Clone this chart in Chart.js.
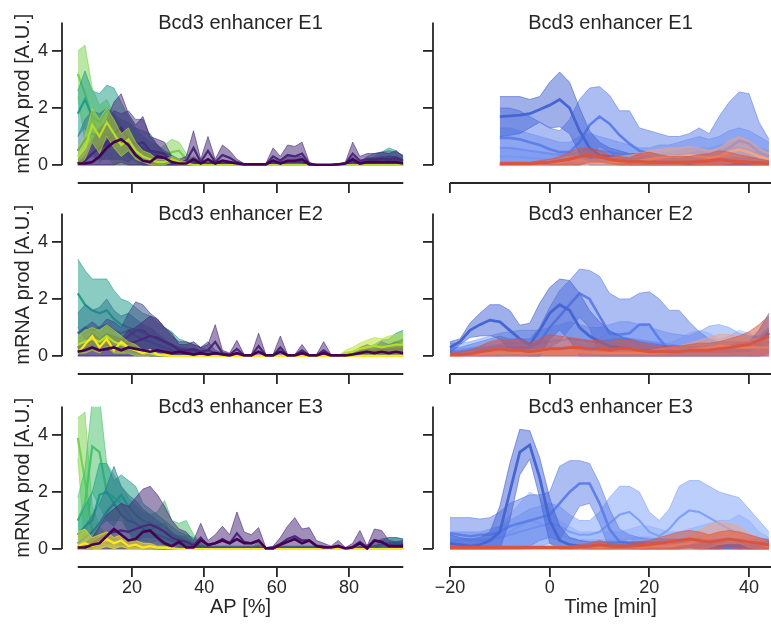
<!DOCTYPE html>
<html>
<head>
<meta charset="utf-8">
<title>Bcd3 enhancer mRNA production</title>
<script src="https://cdn.jsdelivr.net/npm/chart.js@4.4.1/dist/chart.umd.min.js"></script>
<style>
  html, body { margin: 0; padding: 0; background: #fff; }
  body { position: relative; width: 771px; height: 624px; overflow: hidden; }
  canvas { position: absolute; }
</style>
</head>
<body>
<canvas id="e1ap" width="410" height="200" style="left:0;top:0"></canvas>
<canvas id="e1t" width="361" height="200" style="left:410px;top:0"></canvas>
<canvas id="e2ap" width="410" height="200" style="left:0;top:191px"></canvas>
<canvas id="e2t" width="361" height="200" style="left:410px;top:191px"></canvas>
<canvas id="e3ap" width="410" height="240" style="left:0;top:384px"></canvas>
<canvas id="e3t" width="361" height="240" style="left:410px;top:384px"></canvas>
<script>
// x positions
const apPos = [5,7,9,11,13,15,17,19,21,23, 25,27,29,31,33,35,37,39,41,43, 45,47,49,51,53,55,57,59,61,63, 65,67,69,71,73,75,77,79,81,83, 85,87,89,91,93,95];
const timeMin = [-20,-18,-16,-14,-12,-10,-8,-6,-4,-2, 0,2,4,6,8,10,12,14,16,18, 20,22,24,26,28,30,32,34,36,38, 40,42,44];

const yTicks = [0, 2, 4];
const apTicks = [20, 40, 60, 80];
const timeTicks = [-20, 0, 20, 40];

// ---- E1, AP profiles (mean m, upper band h) ----
const e1a_lgreen_m = [3.2,2.5,1.6,1.1,1.3,0.9,0.7,0.5,0.4,0.3, 0.2,0.2,0.3,0.45,0.5,0.2,0.1,0.1,0.05,0.05, 0.05,0.05,0.03,0,0,0,0,0,0,0, 0,0,0,0,0,0,0,0,0,0, 0,0,0,0,0,0];
const e1a_lgreen_h = [4.0,4.2,2.7,2.1,2.3,1.8,1.4,1.1,0.8,0.6, 0.5,0.5,0.7,0.9,0.8,0.4,0.2,0.2,0.1,0.1, 0.1,0.1,0.06,0,0,0,0,0,0,0, 0,0,0,0,0,0,0,0,0,0, 0,0,0,0,0,0];
const e1a_teal_m = [1.8,2.3,1.7,1.5,1.9,1.7,1.3,1.0,0.7,0.5, 0.4,0.3,0.2,0.15,0.1,0.05,0.05,0,0,0, 0,0,0,0,0,0,0,0,0,0, 0,0,0,0,0,0,0,0,0,0, 0.05,0.1,0.2,0.3,0.25,0.15];
const e1a_teal_h = [2.6,3.3,2.6,2.5,2.8,2.7,2.2,1.7,1.3,1.0, 0.8,0.7,0.5,0.35,0.2,0.1,0.1,0,0,0, 0,0,0,0,0,0,0,0,0,0, 0,0,0,0,0,0,0,0,0,0, 0.15,0.3,0.45,0.6,0.5,0.3];
const e1a_tblue_m = [0.5,0.9,1.1,1.0,1.1,1.0,0.9,0.8,0.8,0.6, 0.5,0.35,0.25,0.15,0.1,0.05,0.05,0.05,0,0, 0,0,0,0,0,0,0,0,0,0, 0,0,0,0,0,0,0,0,0,0.05, 0.1,0.15,0.2,0.2,0.2,0.15];
const e1a_tblue_h = [1.0,1.6,1.9,1.8,2.0,1.8,1.6,1.5,1.3,1.2, 1.1,0.7,0.5,0.3,0.2,0.1,0.1,0.1,0,0, 0,0,0,0,0,0,0,0,0,0, 0,0,0,0,0,0,0,0,0,0.1, 0.3,0.4,0.45,0.5,0.45,0.35];
const e1a_indigo_m = [0.05,0.2,0.4,0.6,0.7,0.9,0.8,0.9,0.7,0.6, 0.4,0.3,0.2,0.1,0.05,0.05,0.1,0.05,0.05,0.05, 0.05,0.02,0,0,0,0,0,0.05,0.05,0.1, 0.1,0.1,0,0,0,0,0,0,0.1,0.05, 0.1,0.1,0.1,0.1,0.1,0.05];
const e1a_indigo_h = [0.2,0.5,0.9,1.3,1.5,1.9,1.8,1.9,1.6,1.6, 1.0,0.7,0.4,0.2,0.1,0.1,0.3,0.1,0.1,0.1, 0.1,0.05,0,0,0,0,0,0.2,0.1,0.3, 0.3,0.3,0,0,0,0,0,0,0.3,0.1, 0.25,0.25,0.3,0.3,0.3,0.2];
const e1a_purple_m = [0.05,0.15,0.4,0.6,0.8,1.1,1.3,0.9,0.7,0.8, 0.5,0.45,0.4,0.15,0.1,0.15,0.6,0.1,0.5,0.1, 0.35,0.25,0.1,0.02,0.02,0.02,0.02,0.3,0.15,0.35, 0.3,0.4,0.05,0,0,0,0.02,0.05,0.4,0.15, 0.2,0.2,0.22,0.2,0.25,0.15];
const e1a_purple_h = [0.1,0.3,0.8,1.2,1.6,2.2,2.5,1.8,1.4,1.7, 1.0,0.9,0.8,0.3,0.2,0.3,1.2,0.2,1.0,0.2, 0.7,0.5,0.2,0.05,0.05,0.05,0.05,0.6,0.3,0.7, 0.65,0.8,0.1,0,0,0,0.05,0.1,0.8,0.3, 0.4,0.4,0.45,0.4,0.5,0.3];
const e1a_ygreen_m = [0.3,0.6,1.4,1.0,1.5,1.1,0.7,0.9,0.5,0.3, 0.2,0.1,0.1,0.2,0.1,0.05,0,0,0,0, 0,0,0,0,0,0,0,0,0,0, 0,0,0,0,0,0,0,0,0,0, 0,0,0,0,0,0];
const e1a_ygreen_h = [0.6,1.0,2.0,1.6,2.0,1.6,1.1,1.3,0.8,0.5, 0.4,0.2,0.2,0.3,0.2,0.1,0,0,0,0, 0,0,0,0,0,0,0,0,0,0, 0,0,0,0,0,0,0,0,0,0, 0,0,0,0,0,0];
const e1a_dark_m = [0.05,0.05,0.1,0.3,0.6,0.8,0.9,0.7,0.35,0.15, 0.1,0.3,0.25,0.1,0.05,0.05,0.2,0.05,0.2,0.05, 0.15,0.1,0.05,0.02,0.02,0.02,0.02,0.15,0.05,0.15, 0.15,0.2,0.02,0.01,0.01,0.01,0.02,0.05,0.2,0.05, 0.1,0.1,0.1,0.1,0.1,0.05];

// ---- E2, AP profiles ----
const e2a_teal_m = [2.2,1.8,1.6,1.5,1.6,1.3,1.1,1.0,0.9,0.8, 0.7,0.6,0.5,0.4,0.3,0.2,0.15,0.1,0.05,0.05, 0.05,0,0,0,0,0,0,0,0,0, 0,0,0,0,0,0,0,0.05,0.05,0.1, 0.15,0.2,0.3,0.35,0.45,0.55];
const e2a_teal_h = [3.4,3.0,2.7,2.7,2.7,2.3,2.0,1.9,1.7,1.5, 1.4,1.2,1.0,0.85,0.6,0.5,0.4,0.3,0.2,0.1, 0.1,0,0,0,0,0,0,0,0,0, 0,0,0,0,0,0,0,0.1,0.1,0.2, 0.3,0.4,0.55,0.6,0.8,0.9];
const e2a_tblue_m = [0.8,1.0,0.9,1.0,1.1,0.9,0.8,0.9,0.7,0.6, 0.5,0.4,0.3,0.2,0.15,0.15,0.1,0.05,0.05,0.05, 0,0,0,0,0,0,0,0,0,0, 0,0,0,0,0,0,0,0,0,0, 0.05,0.1,0.15,0.2,0.25,0.3];
const e2a_tblue_h = [1.5,1.8,1.6,1.7,2.0,1.6,1.4,1.5,1.3,1.1, 1.0,0.8,0.6,0.4,0.3,0.3,0.2,0.1,0.1,0.1, 0,0,0,0,0,0,0,0,0,0, 0,0,0,0,0,0,0,0,0,0, 0.1,0.2,0.3,0.4,0.5,0.6];
const e2a_indigo_m = [0.3,0.4,0.5,0.4,0.6,0.5,0.5,0.7,0.9,0.9, 0.7,0.6,0.5,0.35,0.25,0.2,0.2,0.15,0.2,0.1, 0.05,0,0,0,0,0,0,0,0,0, 0,0,0,0,0,0,0,0,0.05,0.1, 0.1,0.15,0.1,0.1,0.1,0.1];
const e2a_indigo_h = [0.8,1.0,1.2,1.0,1.3,1.2,1.0,1.5,1.9,1.8, 1.5,1.3,1.0,0.7,0.5,0.5,0.4,0.3,0.5,0.2, 0.1,0,0,0,0,0,0,0,0,0, 0,0,0,0,0,0,0,0,0.1,0.2, 0.3,0.35,0.3,0.3,0.25,0.3];
const e2a_purple_m = [0.15,0.25,0.4,0.3,0.4,0.35,0.3,0.45,0.5,0.6, 0.7,0.65,0.5,0.4,0.2,0.2,0.25,0.15,0.2,0.5, 0.1,0.05,0.25,0.02,0.02,0.35,0.02,0.02,0.3,0.02, 0.02,0.2,0.02,0.02,0.2,0.02,0.02,0.02,0.05,0.15, 0.2,0.15,0.25,0.2,0.25,0.2];
const e2a_purple_h = [0.3,0.5,0.8,0.6,0.8,0.7,0.6,0.9,1.0,1.2, 1.4,1.3,1.0,0.8,0.4,0.4,0.5,0.3,0.4,1.1, 0.2,0.1,0.55,0.05,0.05,0.8,0.05,0.05,0.7,0.05, 0.05,0.4,0.05,0.05,0.5,0.05,0.05,0.05,0.1,0.3, 0.4,0.3,0.5,0.4,0.5,0.4];
const e2a_ygreen_m = [0.4,0.5,0.6,0.5,0.7,0.5,0.4,0.3,0.2,0.1, 0.1,0.05,0,0,0,0,0,0,0,0, 0,0,0,0,0,0,0,0,0,0, 0,0,0,0,0,0,0,0.1,0.15,0.25, 0.3,0.35,0.3,0.35,0.4,0.4];
const e2a_ygreen_h = [0.7,0.9,1.0,0.9,1.1,0.9,0.7,0.5,0.4,0.2, 0.2,0.1,0,0,0,0,0,0,0,0, 0,0,0,0,0,0,0,0,0,0, 0,0,0,0,0,0,0,0.2,0.3,0.45, 0.55,0.65,0.6,0.7,0.75,0.8];
const e2a_yellow_m = [0.1,0.4,0.7,0.3,0.6,0.2,0.5,0.3,0.2,0.1, 0.2,0.05,0.05,0,0,0,0,0,0,0, 0,0,0,0,0,0,0,0,0,0, 0,0,0,0,0,0,0,0,0,0, 0,0,0,0,0,0];
const e2a_dark_m = [0.15,0.2,0.3,0.2,0.25,0.3,0.2,0.3,0.25,0.2, 0.15,0.2,0.15,0.1,0.15,0.1,0.05,0.1,0.05,0.1, 0.05,0.02,0.1,0.02,0.02,0.15,0.02,0.02,0.15,0.02, 0.02,0.1,0.02,0.02,0.1,0.02,0.02,0.02,0.05,0.1, 0.15,0.1,0.15,0.1,0.15,0.1];

// ---- E3, AP profiles ----
const e3a_pale_m = [3.9,2.4,0.6,0.3,0.2,0.2,0.15,0.1,0.1,0.05, 0.05,0,0,0,0,0,0,0,0,0, 0,0,0,0,0,0,0,0,0,0, 0,0,0,0,0,0,0,0,0,0, 0,0,0,0,0,0];
const e3a_pale_h = [4.6,4.8,1.5,0.8,0.5,0.4,0.3,0.2,0.2,0.1, 0.1,0,0,0,0,0,0,0,0,0, 0,0,0,0,0,0,0,0,0,0, 0,0,0,0,0,0,0,0,0,0, 0,0,0,0,0,0];
const e3a_green_m = [1.0,1.6,3.6,3.4,2.0,1.8,1.6,1.2,0.9,0.8, 0.7,0.8,0.9,0.5,0.45,0.4,0.2,0.05,0,0, 0,0,0,0,0,0.1,0,0,0,0, 0,0,0,0,0,0,0,0,0,0, 0,0,0,0,0,0];
const e3a_green_h = [1.8,2.8,5.2,5.3,3.0,2.6,2.2,1.8,1.5,1.3, 1.2,1.3,1.7,1.0,0.9,1.0,0.5,0.2,0,0, 0,0,0,0,0,0.3,0,0,0,0, 0,0,0,0,0,0,0,0,0,0, 0,0,0,0,0,0];
const e3a_teal_m = [0.5,0.8,1.0,1.9,2.0,1.6,1.9,1.5,1.2,1.0, 0.9,0.8,0.6,0.5,0.4,0.3,0.2,0.1,0.05,0, 0,0,0,0,0,0,0,0,0,0, 0,0,0,0,0,0,0,0,0,0, 0,0,0.15,0.2,0.2,0.15];
const e3a_teal_h = [1.0,1.5,2.0,3.0,3.0,2.4,2.6,2.4,2.2,1.6, 1.4,1.2,1.0,0.8,0.6,0.5,0.4,0.2,0.1,0, 0,0,0,0,0,0,0,0,0,0, 0,0,0,0,0,0,0,0,0,0, 0,0,0.3,0.4,0.4,0.35];
const e3a_tblue_m = [0.2,0.4,0.6,0.9,1.3,1.6,1.2,1.0,0.9,0.7, 0.6,0.5,0.4,0.3,0.2,0.15,0.1,0.05,0.05,0.05, 0.05,0.05,0.05,0.05,0.05,0.05,0,0,0.05,0.05, 0.05,0.05,0.05,0.05,0,0,0,0,0,0.05, 0.05,0.1,0.15,0.2,0.2,0.2];
const e3a_tblue_h = [0.5,0.8,1.2,1.6,2.2,2.9,2.2,1.9,1.7,1.4, 1.2,1.0,0.8,0.6,0.4,0.3,0.2,0.1,0.1,0.1, 0.1,0.1,0.1,0.1,0.1,0.1,0,0,0.1,0.1, 0.1,0.1,0.1,0.1,0,0,0,0,0,0.1, 0.15,0.25,0.35,0.4,0.4,0.35];
const e3a_purple_m = [0.05,0.1,0.2,0.35,0.5,0.6,0.65,0.6,0.7,0.8, 0.85,0.75,0.6,0.4,0.3,0.25,0.12,0.4,0.12,0.2, 0.35,0.2,0.55,0.25,0.2,0.3,0.02,0.05,0.18,0.35, 0.45,0.3,0.3,0.12,0.08,0.05,0.12,0.02,0.08,0.25, 0.05,0.3,0.25,0.12,0.1,0.12];
const e3a_purple_h = [0.1,0.2,0.4,0.8,1.2,1.4,1.6,1.5,1.8,2.1, 2.2,1.9,1.5,1.0,0.7,0.6,0.3,0.9,0.3,0.5, 0.8,0.5,1.3,0.6,0.5,0.75,0.05,0.1,0.4,0.8, 1.1,0.7,0.75,0.3,0.2,0.1,0.3,0.05,0.2,0.65, 0.1,0.7,0.65,0.3,0.25,0.3];
const e3a_yellow_m = [0.1,0.2,0.1,0.2,0.35,0.2,0.3,0.1,0.15,0.05, 0.1,0.05,0.05,0.02,0,0,0,0,0,0, 0,0,0,0,0,0,0,0,0,0, 0,0,0,0,0,0,0,0,0,0, 0,0,0,0,0,0];
const e3a_yellow_h = [0.6,0.7,0.4,0.5,0.6,0.4,0.5,0.3,0.3,0.2, 0.2,0.1,0.1,0.05,0,0,0,0,0,0, 0,0,0,0,0,0,0,0,0,0, 0,0,0,0,0,0,0,0,0,0, 0,0,0,0,0,0];
const e3a_dark_m = [0.05,0.05,0.15,0.2,0.45,0.7,0.5,0.3,0.35,0.6, 0.65,0.4,0.2,0.1,0.25,0.05,0.05,0.3,0.15,0.2, 0.3,0.2,0.35,0.2,0.2,0.3,0.02,0.02,0.15,0.25, 0.35,0.2,0.3,0.1,0.05,0.05,0.1,0.02,0.05,0.2, 0.02,0.3,0.25,0.1,0.1,0.1];

// ---- E1, time courses ----
const e1t_b1_m = [null,null,null,null,null, 1.7,1.72,1.75,1.8,1.95, 2.1,2.3,2.0,1.2,0.6,0.35,0.3,0.25,0.2,0.2, 0.15,0.1,0.1,0.1,0.1,0.1,0.1,0.1,0.1,0.1, 0.1,0.1,0.1];
const e1t_b1_h = [null,null,null,null,null, 2.4,2.4,2.4,2.3,2.4, 2.9,3.26,2.9,2.0,1.2,0.8,0.6,0.5,0.4,0.4, 0.3,0.25,0.25,0.25,0.25,0.25,0.25,0.25,0.25,0.25, 0.25,0.25,0.25];
const e1t_b2_m = [null,null,null,null,null, 0.95,0.95,0.9,0.8,0.7, 0.55,0.45,0.45,0.8,1.4,1.7,1.45,1.05,0.75,0.5, 0.4,0.35,0.3,0.3,0.3,0.35,0.35,0.4,0.6,0.85, 0.75,0.45,0.3];
const e1t_b2_h = [null,null,null,null,null, 2.0,2.0,1.9,1.7,1.5, 1.3,1.2,1.6,2.3,2.7,2.75,2.45,1.9,1.9,1.3, 1.2,1.1,1.0,1.0,1.1,1.3,1.1,1.7,2.2,2.56, 2.5,1.5,0.9];
const e1t_b3_m = [null,null,null,null,null, 0.6,0.6,0.55,0.5,0.45, 0.4,0.35,0.35,0.45,0.55,0.5,0.45,0.4,0.35,0.3, 0.3,0.3,0.3,0.35,0.4,0.45,0.4,0.5,0.6,0.6, 0.5,0.4,0.3];
const e1t_b3_h = [null,null,null,null,null, 1.3,1.3,1.2,1.1,1.0, 0.9,0.8,0.8,1.0,1.1,1.0,0.9,0.8,0.7,0.6, 0.6,0.7,0.7,0.8,0.9,1.0,0.9,1.0,1.2,1.3, 1.2,1.0,0.8];
const e1t_b4_m = [null,null,null,null,null, 0.3,0.3,0.28,0.25,0.22, 0.2,0.2,0.25,0.3,0.3,0.25,0.2,0.2,0.2,0.2, 0.2,0.2,0.22,0.25,0.3,0.3,0.3,0.35,0.4,0.4, 0.35,0.3,0.25];
const e1t_b4_h = [null,null,null,null,null, 0.6,0.6,0.55,0.5,0.45, 0.4,0.4,0.5,0.6,0.6,0.5,0.4,0.4,0.4,0.4, 0.4,0.4,0.45,0.5,0.6,0.6,0.6,0.7,0.8,0.8, 0.7,0.6,0.5];
const e1t_r2_m = [null,null,null,null,null, 0.02,0.02,0.03,0.05,0.05, 0.08,0.1,0.15,0.15,0.1,0.08,0.08,0.1,0.12,0.15, 0.2,0.25,0.3,0.3,0.35,0.3,0.25,0.3,0.45,0.55, 0.45,0.3,0.2];
const e1t_r2_h = [null,null,null,null,null, 0.05,0.05,0.08,0.1,0.1, 0.15,0.2,0.3,0.3,0.2,0.2,0.25,0.3,0.35,0.4, 0.5,0.55,0.6,0.6,0.65,0.6,0.5,0.6,0.85,1.0, 0.85,0.6,0.4];
const e1t_r1_m = [null,null,null,null,null, 0.05,0.05,0.05,0.05,0.08, 0.1,0.15,0.2,0.3,0.35,0.3,0.2,0.15,0.12,0.12, 0.1,0.1,0.1,0.1,0.1,0.12,0.15,0.2,0.15,0.12, 0.1,0.08,0.05];
const e1t_r1_h = [null,null,null,null,null, 0.1,0.1,0.1,0.1,0.15, 0.2,0.3,0.45,0.6,0.6,0.5,0.35,0.3,0.25,0.4, 0.45,0.35,0.3,0.3,0.3,0.35,0.4,0.5,0.45,0.35, 0.3,0.2,0.15];

// ---- E2, time courses ----
const e2t_b1_m = [0.3,0.5,0.9,1.1,1.26,1.2,0.9,0.6,0.4,0.9, 1.5,1.8,1.6,1.0,0.7,0.5,0.35,0.3,0.25,0.2, 0.2,0.15,0.15,0.15,0.15,0.15,0.15,0.15,0.15,0.2, 0.2,0.4,0.8];
const e2t_b1_h = [0.5,0.6,1.15,1.5,1.8,1.8,1.6,1.08,1.15,1.85, 2.4,2.7,2.65,2.2,1.6,1.2,0.9,0.7,0.6,0.5, 0.45,0.4,0.35,0.35,0.35,0.35,0.35,0.35,0.4,0.45, 0.5,0.9,1.5];
const e2t_b2_m = [0.15,0.15,0.2,0.25,0.3,0.35,0.3,0.3,0.3,0.5, 1.0,1.4,1.8,2.2,2.0,1.4,0.8,0.75,0.8,1.1, 1.1,0.6,0.2,0.15,0.15,0.2,0.2,0.2,0.2,0.2, 0.2,0.3,0.5];
const e2t_b2_h = [0.3,0.3,0.4,0.5,0.6,0.7,0.6,0.6,0.6,1.0, 1.7,2.3,2.65,3.05,3.0,2.8,2.2,2.0,2.0,2.2, 2.25,2.0,1.6,1.6,1.2,0.85,0.6,0.5,0.5,0.5, 0.5,0.6,0.9];
const e2t_b3_m = [0.2,0.2,0.25,0.3,0.35,0.4,0.45,0.45,0.4,0.45, 0.5,0.55,0.6,0.55,0.5,0.5,0.55,0.6,0.6,0.55, 0.5,0.45,0.4,0.35,0.3,0.3,0.35,0.45,0.5,0.45, 0.35,0.35,0.5];
const e2t_b3_h = [0.45,0.45,0.5,0.6,0.7,0.8,0.85,0.9,0.9,0.9, 1.0,1.1,1.2,1.1,1.0,1.0,1.1,1.2,1.2,1.1, 1.0,0.9,0.8,0.75,0.7,0.85,1.05,1.1,1.0,0.8, 0.7,0.7,1.0];
const e2t_b4_m = [0.1,0.1,0.12,0.15,0.2,0.25,0.25,0.2,0.2,0.25, 0.3,0.3,0.25,0.2,0.2,0.25,0.3,0.3,0.25,0.2, 0.15,0.15,0.2,0.3,0.4,0.45,0.4,0.3,0.35,0.45, 0.4,0.3,0.25];
const e2t_b4_h = [0.25,0.25,0.3,0.35,0.45,0.55,0.55,0.45,0.45,0.55, 0.6,0.6,0.55,0.45,0.45,0.55,0.6,0.6,0.55,0.45, 0.35,0.35,0.45,0.6,0.8,0.9,0.8,0.6,0.7,0.9, 0.8,0.6,0.5];
const e2t_r2_m = [0.02,0.02,0.05,0.05,0.1,0.1,0.12,0.1,0.1,0.12, 0.15,0.15,0.15,0.15,0.12,0.1,0.1,0.1,0.1,0.1, 0.1,0.1,0.12,0.15,0.2,0.25,0.3,0.35,0.35,0.3, 0.3,0.3,0.3];
const e2t_r2_h = [0.05,0.05,0.1,0.12,0.2,0.2,0.25,0.2,0.2,0.25, 0.3,0.3,0.3,0.3,0.25,0.2,0.2,0.2,0.2,0.2, 0.2,0.25,0.3,0.35,0.45,0.55,0.65,0.75,0.75,0.7, 0.6,0.6,0.6];
const e2t_r1_m = [0.05,0.05,0.08,0.15,0.2,0.25,0.2,0.2,0.15,0.2, 0.25,0.25,0.3,0.3,0.25,0.25,0.2,0.25,0.25,0.2, 0.15,0.15,0.15,0.15,0.2,0.2,0.2,0.25,0.3,0.35, 0.4,0.55,0.7];
const e2t_r1_h = [0.1,0.15,0.2,0.35,0.5,0.6,0.55,0.6,0.45,0.6, 0.75,0.7,0.65,0.6,0.55,0.55,0.5,0.6,0.55,0.5, 0.4,0.35,0.35,0.35,0.4,0.45,0.45,0.5,0.6,0.7, 0.85,1.1,1.4];

// ---- E3, time courses ----
const e3t_b1_m = [0.2,0.15,0.1,0.15,0.3,0.6,2.0,3.4,3.65,2.5, 1.0,0.3,0.15,0.1,0.1,0.1,0.1,0.1,0.1,0.1, 0.1,0.1,0.1,0.1,0.1,0.1,0.1,0.1,0.1,0.1, 0.1,0.1,0.1];
const e3t_b1_h = [0.5,0.4,0.35,0.4,0.6,1.5,3.0,4.2,4.15,3.2, 1.8,0.8,0.4,0.3,0.25,0.25,0.25,0.25,0.25,0.25, 0.25,0.25,0.25,0.25,0.25,0.25,0.25,0.25,0.25,0.25, 0.25,0.25,0.25];
const e3t_b2_m = [0.55,0.5,0.45,0.5,0.5,0.6,0.8,0.9,1.0,1.1, 1.2,1.6,2.0,2.3,2.3,1.6,0.7,0.25,0.2,0.2, 0.15,0.15,0.15,0.15,0.15,0.15,0.15,0.15,0.15,0.15, 0.15,0.15,0.15];
const e3t_b2_h = [1.1,1.1,1.1,1.05,1.1,1.3,1.6,1.75,1.9,1.9, 2.0,2.9,3.1,3.1,3.0,2.3,1.4,0.7,0.5,0.4, 0.35,0.35,0.35,0.35,0.35,0.35,0.35,0.35,0.35,0.35, 0.35,0.35,0.35];
const e3t_b3_m = [0.3,0.3,0.3,0.3,0.35,0.4,0.5,0.6,0.7,0.8, 0.9,0.8,0.6,0.5,0.5,0.6,0.9,1.2,1.3,1.0, 0.6,0.45,0.7,1.1,1.35,1.3,1.1,0.9,0.7,0.5, 0.35,0.25,0.2];
const e3t_b3_h = [0.6,0.6,0.6,0.6,0.7,0.8,1.0,1.2,1.4,1.5, 1.6,1.5,1.2,1.0,1.0,1.3,1.8,2.2,2.2,2.0, 1.3,1.0,1.4,2.2,2.4,2.4,2.2,2.0,1.9,1.8, 1.4,1.0,0.6];
const e3t_b4_m = [0.15,0.15,0.2,0.25,0.3,0.4,0.6,0.8,1.0,0.9, 0.7,0.5,0.4,0.3,0.3,0.3,0.3,0.3,0.35,0.4, 0.4,0.35,0.3,0.3,0.35,0.4,0.45,0.5,0.5,0.6, 0.5,0.3,0.2];
const e3t_b4_h = [0.3,0.3,0.4,0.5,0.6,0.8,1.2,1.6,2.0,1.8, 1.4,1.0,0.8,0.6,0.6,0.6,0.6,0.6,0.7,0.8, 0.8,0.7,0.6,0.6,0.7,0.8,0.9,1.0,1.0,1.2, 1.0,0.6,0.4];
const e3t_r2_m = [0.02,0.02,0.02,0.02,0.02,0.03,0.03,0.03,0.05,0.05, 0.05,0.05,0.05,0.05,0.05,0.05,0.05,0.05,0.05,0.05, 0.1,0.1,0.1,0.15,0.2,0.3,0.45,0.55,0.55,0.5, 0.3,0.2,0.1];
const e3t_r2_h = [0.05,0.05,0.05,0.05,0.05,0.06,0.06,0.06,0.1,0.1, 0.1,0.1,0.1,0.1,0.1,0.1,0.1,0.1,0.1,0.1, 0.2,0.2,0.2,0.3,0.45,0.65,0.85,0.95,0.9,0.8, 0.55,0.4,0.2];
const e3t_r1_m = [0.05,0.05,0.05,0.05,0.05,0.05,0.05,0.05,0.05,0.05, 0.05,0.05,0.05,0.08,0.1,0.15,0.1,0.08,0.1,0.12, 0.15,0.2,0.25,0.3,0.35,0.3,0.25,0.3,0.35,0.3, 0.25,0.2,0.15];
const e3t_r1_h = [0.1,0.1,0.1,0.1,0.1,0.1,0.1,0.1,0.1,0.1, 0.1,0.1,0.1,0.15,0.2,0.3,0.2,0.15,0.2,0.25, 0.3,0.4,0.5,0.6,0.65,0.6,0.5,0.6,0.65,0.6, 0.5,0.4,0.3];

// colours
const viridis = { yellow: '#fde725', ygreen: '#b5de2b', lgreen: '#7ad151', green: '#4ac16d', teal: '#1f9e89', tblue: '#2a788e', indigo: '#3e4989', purple: '#482878', dark: '#440154' };
const coolwarm = { b1: '#4666d4', b2: '#5f80e8', b3: '#7fa2f8', b4: '#a6c2fb', r2: '#f4a385', r1: '#d9553f' };

const ink = '#262626';
const fontFamily = "'Liberation Sans', Arial, sans-serif";
Chart.defaults.font.family = fontFamily;

function rgba(hex, a) {
    const n = parseInt(hex.slice(1), 16);
    return `rgba(${(n >> 16) & 255},${(n >> 8) & 255},${n & 255},${a})`;
}

// one series -> mean line + (optional) band between lower and upper bound
function seriesSets(xs, s, order) {
    const pts = arr => arr.map((v, i) => ({ x: xs[i], y: v }));
    const sets = [{
        data: pts(s.m), borderColor: s.color, borderWidth: s.lw || 2.2, fill: false, order
    }];
    if (s.h) {
        const lo = s.m.map((v, i) => v == null ? null : Math.max(0, 2 * v - s.h[i]));
        sets.push({ data: pts(lo), borderColor: rgba(s.color, 0.55), borderWidth: 1, fill: false, order });
        sets.push({ data: pts(s.h), borderColor: rgba(s.color, 0.6), borderWidth: 1,
            backgroundColor: rgba(s.color, 0.52), fill: '-1', order });
    }
    return sets;
}

// offset spines + panel title + axis labels
const panelDecor = {
    id: 'panelDecor',
    afterDraw(chart, args, opts) {
        const { ctx, chartArea: ca, scales: { x, y } } = chart;
        const y0 = y.getPixelForValue(0), y5 = y.getPixelForValue(5);
        const xa = x.getPixelForValue(opts.xStart), xb = x.getPixelForValue(opts.xEnd);
        ctx.save();
        ctx.strokeStyle = ink;
        ctx.lineWidth = 1.8;
        ctx.beginPath();
        ctx.moveTo(ca.left, y0); ctx.lineTo(ca.left, y5);
        ctx.moveTo(xa, ca.bottom); ctx.lineTo(xb, ca.bottom);
        ctx.stroke();
        ctx.fillStyle = ink;
        ctx.textAlign = 'center';
        ctx.textBaseline = 'middle';
        ctx.font = `20px ${fontFamily}`;
        const xc = (xa + xb) / 2;
        ctx.fillText(opts.title, xc, y5 + 1);
        if (opts.xLabel) ctx.fillText(opts.xLabel, xc, ca.bottom + 40);
        if (opts.yLabel) {
            ctx.translate(23.5, (y0 + y5) / 2);
            ctx.rotate(-Math.PI / 2);
            ctx.fillText(opts.yLabel, 0, 0);
        }
        ctx.restore();
    }
};

const fmt = v => (v < 0 ? '\u2212' + Math.abs(v) : String(v));

function makePanel(id, xs, series, cfg) {
    const datasets = [];
    series.forEach((s, k) => datasets.push(...seriesSets(xs, s, 100 - k)));
    const tickMarks = { display: true, drawOnChartArea: false, drawTicks: true, tickLength: 10, color: ink, lineWidth: 1.8 };
    new Chart(document.getElementById(id), {
        type: 'line',
        data: { datasets },
        options: {
            responsive: false,
            animation: false,
            events: [],
            layout: { padding: { top: 22.5, right: cfg.padRight, bottom: 0, left: 0 } },
            elements: { point: { radius: 0 }, line: { tension: 0 } },
            plugins: {
                legend: { display: false },
                tooltip: { enabled: false },
                panelDecor: { title: cfg.title, xLabel: cfg.xLabel, yLabel: cfg.yLabel, xStart: cfg.xStart, xEnd: cfg.xEnd }
            },
            scales: {
                x: {
                    type: 'linear', min: cfg.xMin, max: cfg.xMax,
                    border: { display: false },
                    grid: tickMarks,
                    ticks: { display: cfg.showX, color: ink, font: { size: 18 }, padding: 0, maxRotation: 0, autoSkip: false, callback: fmt },
                    afterBuildTicks: s => { s.ticks = cfg.xTicks.map(v => ({ value: v })); },
                    afterFit: s => { s.height = cfg.xHeight; }
                },
                y: {
                    type: 'linear', min: -0.632, max: 5,
                    border: { display: false },
                    grid: tickMarks,
                    ticks: { display: cfg.showY, color: ink, font: { size: 18 }, padding: 4 },
                    afterBuildTicks: s => { s.ticks = yTicks.map(v => ({ value: v })); },
                    afterFit: s => { s.width = cfg.yWidth; }
                }
            }
        },
        plugins: [panelDecor]
    });
}

const apCfg = { xMin: 0.64, xMax: 95, xStart: 5, xEnd: 95, xTicks: apTicks, padRight: 6.7, yWidth: 62, showY: true, yLabel: 'mRNA prod [A.U.]' };
const tCfg = { xMin: -23.41, xMax: 44.41, xStart: -20, xEnd: 44.41, xTicks: timeTicks, padRight: 0, yWidth: 23, showY: false };

makePanel('e1ap', apPos, [
    { color: viridis.lgreen, m: e1a_lgreen_m, h: e1a_lgreen_h },
    { color: viridis.teal, m: e1a_teal_m, h: e1a_teal_h },
    { color: viridis.tblue, m: e1a_tblue_m, h: e1a_tblue_h },
    { color: viridis.indigo, m: e1a_indigo_m, h: e1a_indigo_h },
    { color: viridis.purple, m: e1a_purple_m, h: e1a_purple_h },
    { color: viridis.ygreen, m: e1a_ygreen_m, h: e1a_ygreen_h },
    { color: viridis.dark, m: e1a_dark_m, lw: 2.6 }
], Object.assign({}, apCfg, { title: 'Bcd3 enhancer E1', showX: false, xHeight: 17 }));

makePanel('e2ap', apPos, [
    { color: viridis.teal, m: e2a_teal_m, h: e2a_teal_h },
    { color: viridis.tblue, m: e2a_tblue_m, h: e2a_tblue_h },
    { color: viridis.indigo, m: e2a_indigo_m, h: e2a_indigo_h },
    { color: viridis.purple, m: e2a_purple_m, h: e2a_purple_h },
    { color: viridis.ygreen, m: e2a_ygreen_m, h: e2a_ygreen_h },
    { color: viridis.yellow, m: e2a_yellow_m },
    { color: viridis.dark, m: e2a_dark_m, lw: 2.6 }
], Object.assign({}, apCfg, { title: 'Bcd3 enhancer E2', showX: false, xHeight: 17 }));

makePanel('e3ap', apPos, [
    { color: viridis.lgreen, m: e3a_pale_m, h: e3a_pale_h },
    { color: viridis.green, m: e3a_green_m, h: e3a_green_h },
    { color: viridis.teal, m: e3a_teal_m, h: e3a_teal_h },
    { color: viridis.tblue, m: e3a_tblue_m, h: e3a_tblue_h },
    { color: viridis.purple, m: e3a_purple_m, h: e3a_purple_h },
    { color: viridis.yellow, m: e3a_yellow_m, h: e3a_yellow_h },
    { color: viridis.dark, m: e3a_dark_m, lw: 2.6 }
], Object.assign({}, apCfg, { title: 'Bcd3 enhancer E3', showX: true, xHeight: 57, xLabel: 'AP [%]' }));

makePanel('e1t', timeMin, [
    { color: coolwarm.b4, m: e1t_b4_m, h: e1t_b4_h },
    { color: coolwarm.b3, m: e1t_b3_m, h: e1t_b3_h },
    { color: coolwarm.b2, m: e1t_b2_m, h: e1t_b2_h, lw: 2.6 },
    { color: coolwarm.b1, m: e1t_b1_m, h: e1t_b1_h, lw: 2.8 },
    { color: coolwarm.r2, m: e1t_r2_m, h: e1t_r2_h, lw: 2.6 },
    { color: coolwarm.r1, m: e1t_r1_m, h: e1t_r1_h, lw: 3 }
], Object.assign({}, tCfg, { title: 'Bcd3 enhancer E1', showX: false, xHeight: 17 }));

makePanel('e2t', timeMin, [
    { color: coolwarm.b4, m: e2t_b4_m, h: e2t_b4_h },
    { color: coolwarm.b3, m: e2t_b3_m, h: e2t_b3_h },
    { color: coolwarm.b2, m: e2t_b2_m, h: e2t_b2_h, lw: 2.6 },
    { color: coolwarm.b1, m: e2t_b1_m, h: e2t_b1_h, lw: 2.8 },
    { color: coolwarm.r2, m: e2t_r2_m, h: e2t_r2_h, lw: 2.6 },
    { color: coolwarm.r1, m: e2t_r1_m, h: e2t_r1_h, lw: 3 }
], Object.assign({}, tCfg, { title: 'Bcd3 enhancer E2', showX: false, xHeight: 17 }));

makePanel('e3t', timeMin, [
    { color: coolwarm.b4, m: e3t_b4_m, h: e3t_b4_h },
    { color: coolwarm.b3, m: e3t_b3_m, h: e3t_b3_h },
    { color: coolwarm.b2, m: e3t_b2_m, h: e3t_b2_h, lw: 2.6 },
    { color: coolwarm.b1, m: e3t_b1_m, h: e3t_b1_h, lw: 2.8 },
    { color: coolwarm.r2, m: e3t_r2_m, h: e3t_r2_h, lw: 2.6 },
    { color: coolwarm.r1, m: e3t_r1_m, h: e3t_r1_h, lw: 3 }
], Object.assign({}, tCfg, { title: 'Bcd3 enhancer E3', showX: true, xHeight: 57, xLabel: 'Time [min]' }));
</script>
</body>
</html>
